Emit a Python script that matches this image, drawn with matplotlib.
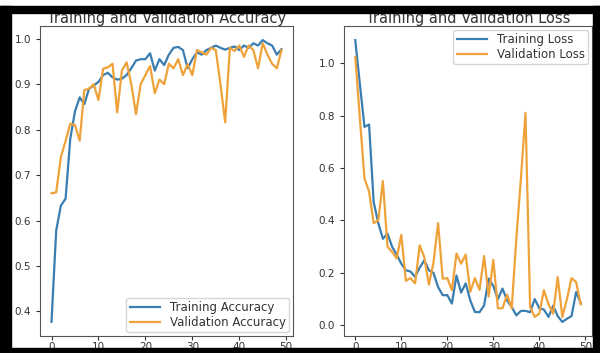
import matplotlib
matplotlib.use('Agg')
import matplotlib.pyplot as plt
from matplotlib.patches import Rectangle

BLUE = '#3a7db0'
ORANGE = '#efa23a'
TEXT = '#333333'

epochs = list(range(50))

train_acc = [0.377, 0.578, 0.633, 0.648, 0.78, 0.84, 0.871, 0.856, 0.89, 0.897,
             0.905, 0.92, 0.925, 0.915, 0.91, 0.912, 0.92, 0.935, 0.952, 0.955,
             0.955, 0.968, 0.93, 0.955, 0.942, 0.965, 0.98, 0.982, 0.975, 0.935,
             0.955, 0.97, 0.965, 0.975, 0.98, 0.985, 0.98, 0.976, 0.98, 0.983,
             0.975, 0.985, 0.98, 0.99, 0.985, 0.997, 0.99, 0.985, 0.965, 0.977]

val_acc = [0.66, 0.662, 0.74, 0.775, 0.813, 0.81, 0.776, 0.887, 0.89, 0.9,
           0.865, 0.934, 0.937, 0.945, 0.838, 0.93, 0.948, 0.9, 0.834, 0.9,
           0.92, 0.94, 0.88, 0.91, 0.9, 0.945, 0.935, 0.955, 0.92, 0.944,
           0.92, 0.975, 0.97, 0.965, 0.98, 0.975, 0.9, 0.816, 0.98, 0.973,
           0.985, 0.96, 0.985, 0.975, 0.935, 0.99, 0.965, 0.945, 0.935, 0.975]

train_loss = [1.088, 0.92, 0.757, 0.766, 0.47, 0.39, 0.33, 0.35, 0.3, 0.27,
              0.235, 0.21, 0.205, 0.185, 0.22, 0.248, 0.21, 0.2, 0.146, 0.115,
              0.115, 0.083, 0.19, 0.125, 0.16, 0.095, 0.051, 0.05, 0.076, 0.178,
              0.15, 0.1, 0.14, 0.095, 0.07, 0.038, 0.055, 0.055, 0.05, 0.1,
              0.065, 0.06, 0.032, 0.075, 0.035, 0.013, 0.025, 0.035, 0.127, 0.085]

val_loss = [1.024, 0.79, 0.56, 0.51, 0.39, 0.4, 0.55, 0.3, 0.28, 0.255,
            0.345, 0.17, 0.18, 0.16, 0.305, 0.26, 0.155, 0.24, 0.39, 0.178,
            0.18, 0.134, 0.274, 0.235, 0.27, 0.128, 0.18, 0.135, 0.264, 0.11,
            0.25, 0.065, 0.065, 0.117, 0.065, 0.33, 0.56, 0.81, 0.07, 0.032,
            0.045, 0.134, 0.08, 0.045, 0.184, 0.032, 0.1, 0.18, 0.165, 0.08]

W, H = 600, 353


def px_box(x0, y0, x1, y1):
    # pixel box (top-left origin) -> figure fraction [l, b, w, h]
    return [x0 / W, 1 - y1 / H, (x1 - x0) / W, (y1 - y0) / H]


def style(ax, title):
    ax.set_title(title, fontsize=10.5, color=TEXT, pad=2)
    ax.tick_params(labelsize=7.5, colors=TEXT, length=3)
    ax.tick_params(axis='x', pad=1.5)
    for s in ax.spines.values():
        s.set_color('#555555')
        s.set_linewidth(0.8)


def legend(ax, loc):
    ax.legend(loc=loc, fontsize=8.5, labelcolor=TEXT, labelspacing=0.15,
              borderpad=0.3, handlelength=2.6, borderaxespad=0.3)


fig = plt.figure(figsize=(W / 100, H / 100), dpi=100)

# accuracy
ax1 = fig.add_axes(px_box(40, 26, 293, 336))
ax1.plot(epochs, train_acc, color=BLUE, lw=1.6, label='Training Accuracy')
ax1.plot(epochs, val_acc, color=ORANGE, lw=1.6, label='Validation Accuracy')
ax1.set_xticks([0, 10, 20, 30, 40, 50])
legend(ax1, 'lower right')
style(ax1, 'Training and Validation Accuracy')

# loss
ax2 = fig.add_axes(px_box(344, 26, 592, 336))
ax2.plot(epochs, train_loss, color=BLUE, lw=1.6, label='Training Loss')
ax2.plot(epochs, val_loss, color=ORANGE, lw=1.6, label='Validation Loss')
ax2.set_xticks([0, 10, 20, 30, 40, 50])
legend(ax2, 'upper right')
style(ax2, 'Training and Validation Loss')

# black frame of the screenshot
for box in [(0, 6, W, 13), (0, 6, 11, H), (593, 6, W, H), (0, 348, W, H)]:
    l, b, w, h = px_box(*box)
    fig.patches.append(Rectangle((l, b), w, h, transform=fig.transFigure,
                                 color='black', zorder=10))

fig.savefig('out.png', dpi=100)
